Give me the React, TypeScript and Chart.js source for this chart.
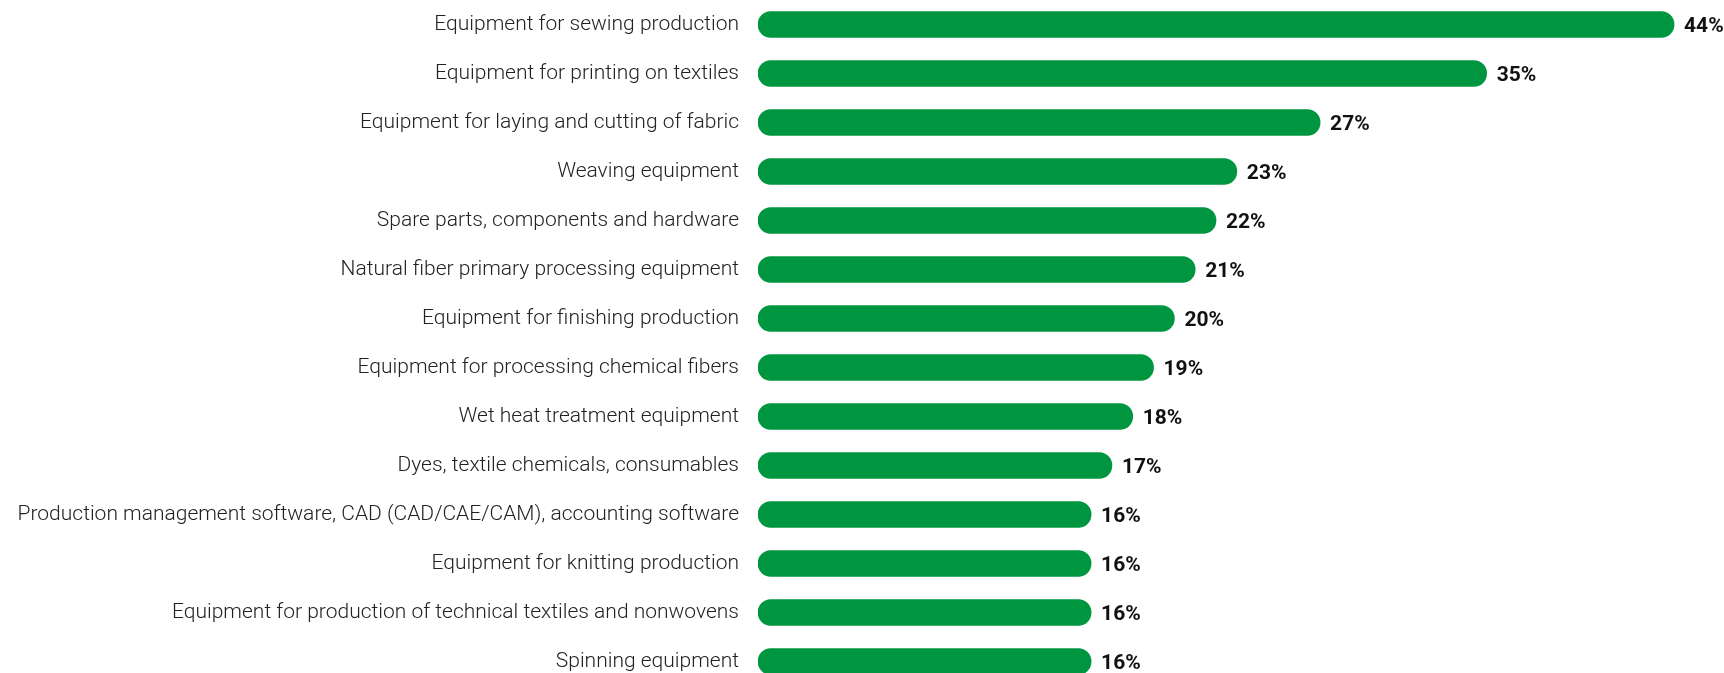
import React, { useEffect, useRef } from "react";
import { Chart, registerables } from "chart.js";

Chart.register(...registerables);

const categories = [
  "Equipment for sewing production",
  "Equipment for printing on textiles",
  "Equipment for laying and cutting of fabric",
  "Weaving equipment",
  "Spare parts, components and hardware",
  "Natural fiber primary processing equipment",
  "Equipment for finishing production",
  "Equipment for processing chemical fibers",
  "Wet heat treatment equipment",
  "Dyes, textile chemicals, consumables",
  "Production management software, CAD (CAD/CAE/CAM), accounting software",
  "Equipment for knitting production",
  "Equipment for production of technical textiles and nonwovens",
  "Spinning equipment",
];

const values = [44, 35, 27, 23, 22, 21, 20, 19, 18, 17, 16, 16, 16, 16];

const valueLabels = values.map((v) => `${v}%`);

const GREEN = "#009640";

export default function App() {
  const canvasRef = useRef<HTMLCanvasElement | null>(null);

  useEffect(() => {
    if (!canvasRef.current) return;
    const valuePlugin = {
      id: "valueLabels",
      afterDatasetsDraw(chart: any) {
        const ctx = chart.ctx;
        const meta = chart.getDatasetMeta(0);
        ctx.save();
        ctx.font = "bold 21px Roboto";
        ctx.fillStyle = "#111111";
        ctx.textAlign = "left";
        ctx.textBaseline = "middle";
        meta.data.forEach((bar: any, i: number) => {
          ctx.fillText(valueLabels[i], bar.x + 10, bar.y + 2);
        });
        ctx.restore();
      },
    };
    const chart = new Chart(canvasRef.current, {
      type: "bar",
      data: {
        labels: categories,
        datasets: [
          {
            data: values,
            backgroundColor: GREEN,
            borderRadius: 13,
            borderSkipped: false,
            barThickness: 26,
          },
        ],
      },
      options: {
        indexAxis: "y",
        animation: false,
        responsive: false,
        maintainAspectRatio: false,
        layout: { padding: 0 },
        plugins: {
          legend: { display: false },
          tooltip: { enabled: false },
        },
        scales: {
          x: {
            display: false,
            min: 0,
            max: 46.4,
          },
          y: {
            grid: { display: false, drawTicks: false },
            border: { display: false },
            ticks: {
              padding: 19,
              color: "#222222",
              font: { family: "Roboto", size: 21, weight: "300" },
            },
            afterFit(scale: any) {
              scale.width = 758;
              scale.paddingTop = 0;
              scale.paddingBottom = 0;
            },
          },
        },
      },
      plugins: [valuePlugin],
    });
    return () => chart.destroy();
  }, []);

  return (
    <div
      style={{
        position: "fixed",
        left: 0,
        top: 0,
        width: 1724,
        height: 673,
        overflow: "hidden",
        background: "#ffffff",
      }}
    >
      <canvas ref={canvasRef} width={1724} height={686} style={{ display: "block" }} />
    </div>
  );
}
